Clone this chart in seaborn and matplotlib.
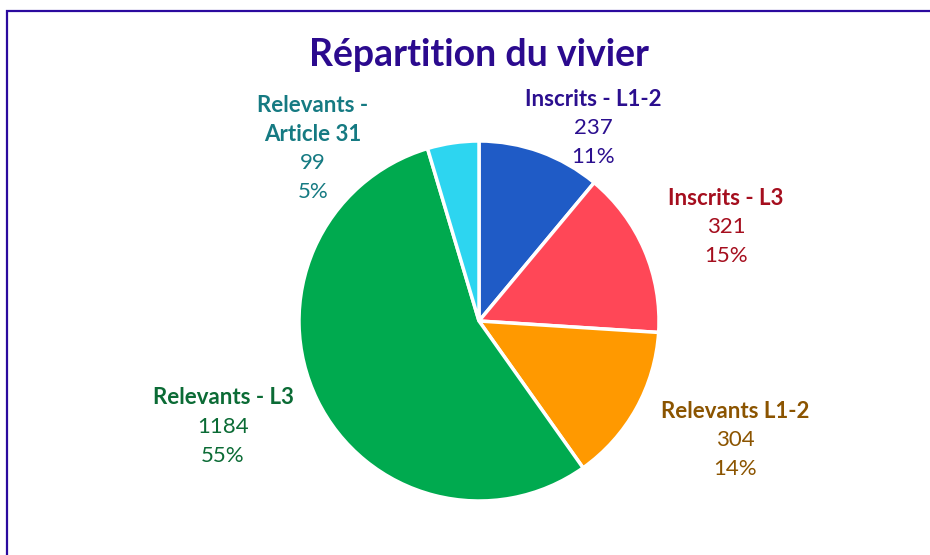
import matplotlib.pyplot as plt
import seaborn as sns
from matplotlib.patches import Rectangle

# data
categories = ['Inscrits - L1-2', 'Inscrits - L3', 'Relevants L1-2', 'Relevants - L3', 'Relevants -\nArticle 31']
values = [237, 321, 304, 1184, 99]
slice_colors = ['#1F5BC6', '#FF4757', '#FF9900', '#00AA4F', '#2DD5F0']
text_colors = ['#2B0F8F', '#A50E1E', '#8B5400', '#0B6B35', '#157A82']

sns.set_theme(style='white')
plt.rcParams['font.family'] = ['Lato', 'DejaVu Sans']

W, H = 930, 555
R = 180  # pie radius in px
cx, cy = 479, 321  # pie centre (px from top-left)

fig = plt.figure(figsize=(W / 100, H / 100), dpi=100)
ax = fig.add_axes([0, 0, 1, 1])

ax.pie(values, colors=slice_colors, startangle=90, counterclock=False, radius=1,
       wedgeprops=dict(edgecolor='white', linewidth=2.5))
ax.set_xlim(-cx / R, (W - cx) / R)
ax.set_ylim(-(H - cy) / R, cy / R)
ax.set_aspect('equal')
ax.axis('off')

# label anchors: centre of first line, in px from pie centre
anchors = [(114, -222), (247, -123), (256, 90), (-256, 77), (-166, -216)]
total = sum(values)
step = 29 / R
for name, v, col, (dx, dy) in zip(categories, values, text_colors, anchors):
    x, y = dx / R, -dy / R
    n_lines = name.count('\n') + 1
    for i, line in enumerate(name.split('\n')):
        ax.text(x, y - i * step, line, ha='center', va='center', fontsize=16,
                fontweight='bold', color=col)
    y0 = y - n_lines * step
    ax.text(x, y0, str(v), ha='center', va='center', fontsize=16, color=col)
    ax.text(x, y0 - step, f'{round(100 * v / total)}%', ha='center', va='center',
            fontsize=16, color=col)

fig.text(cx / W, 1 - 55 / H, 'Répartition du vivier', ha='center', va='center',
         fontsize=27, fontweight='bold', color='#2B0A8E')

fig.patches.append(Rectangle((7 / W, -0.1), 1.2, 1 - 11 / H + 0.1, transform=fig.transFigure,
                             fill=False, edgecolor='#2B0A9E', linewidth=1.6))

fig.savefig('out.png', dpi=100, facecolor='white')
